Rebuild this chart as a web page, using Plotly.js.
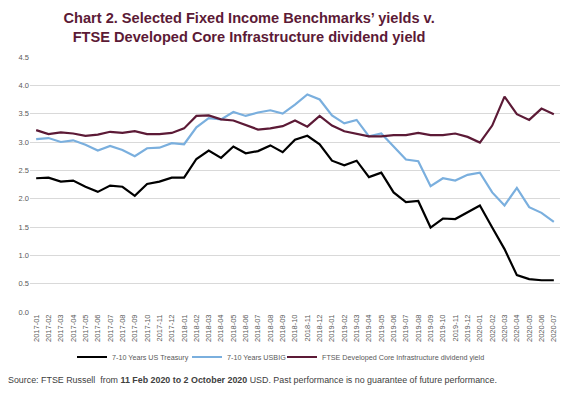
<!DOCTYPE html>
<html>
<head>
<meta charset="utf-8">
<script src="https://cdn.plot.ly/plotly-3.0.1.min.js"></script>
<style>html,body{margin:0;padding:0;background:#fff;}#chart{width:570px;height:398px;}</style>
</head>
<body>
<div id="chart"></div>
<script>
const months = ["2017-01","2017-02","2017-03","2017-04","2017-05","2017-06","2017-07","2017-08","2017-09","2017-10","2017-11","2017-12",
"2018-01","2018-02","2018-03","2018-04","2018-05","2018-06","2018-07","2018-08","2018-09","2018-10","2018-11","2018-12",
"2019-01","2019-02","2019-03","2019-04","2019-05","2019-06","2019-07","2019-08","2019-09","2019-10","2019-11","2019-12",
"2020-01","2020-02","2020-03","2020-04","2020-05","2020-06","2020-07"];

const usTreasury = [2.36,2.37,2.30,2.32,2.21,2.12,2.23,2.21,2.05,2.26,2.30,2.37,
2.37,2.70,2.85,2.72,2.92,2.80,2.84,2.94,2.82,3.04,3.11,2.96,
2.67,2.59,2.67,2.38,2.46,2.11,1.94,1.96,1.49,1.65,1.64,1.76,
1.88,1.49,1.11,0.65,0.58,0.56,0.56];

const usbig = [3.05,3.07,3.00,3.03,2.95,2.85,2.93,2.86,2.75,2.89,2.90,2.98,
2.96,3.26,3.42,3.40,3.53,3.46,3.52,3.56,3.50,3.66,3.84,3.75,
3.47,3.33,3.39,3.10,3.15,2.92,2.69,2.66,2.22,2.36,2.32,2.42,
2.46,2.11,1.88,2.19,1.85,1.75,1.59];

const ftseInfra = [3.21,3.14,3.17,3.15,3.11,3.13,3.18,3.16,3.19,3.14,3.14,3.16,
3.24,3.46,3.47,3.40,3.38,3.30,3.22,3.24,3.28,3.38,3.27,3.46,
3.29,3.19,3.15,3.10,3.10,3.12,3.12,3.16,3.12,3.12,3.15,3.09,
2.99,3.29,3.80,3.49,3.39,3.59,3.49];

const seriesNames = ["7-10 Years US Treasury","7-10 Years USBIG","FTSE Developed Core Infrastructure dividend yield"];
const seriesColors = ["#000000","#7aafde","#5c1a36"];
const legendIds = ["legend","legend2","legend3"];
const yTicks = [0,0.5,1,1.5,2,2.5,3,3.5,4,4.5];

const data = [usTreasury, usbig, ftseInfra].map((v,k)=>({
  type:"scatter", mode:"lines", x:months, y:v, name:seriesNames[k], legend:legendIds[k],
  line:{color:seriesColors[k], width:2.2}
}));

// pixel helpers for legend placement (plot area: x 30..560, y 57..312)
const px = p => (p - 30) / 530;
const py = p => (312 - p) / 255;
const legBase = {orientation:"h", xanchor:"left", yanchor:"middle", y:py(357),
  font:{size:7.2, color:"#595959"}, itemwidth:30, bgcolor:"rgba(0,0,0,0)"};

const layout = {
  width:570, height:398,
  paper_bgcolor:"#fff", plot_bgcolor:"#fff",
  margin:{l:30, r:10, t:57, b:86},
  font:{family:"Liberation Sans, Arial, sans-serif", color:"#595959", size:8},
  title:{text:"Chart 2. Selected Fixed Income Benchmarks’ yields v.<br>FTSE Developed Core Infrastructure dividend yield",
    font:{family:"Liberation Sans, Arial, sans-serif", size:14.6, color:"#5c1a36", weight:"bold"},
    xref:"container", x:0.437, xanchor:"center", y:0.942, yanchor:"top"},
  xaxis:{type:"category", range:[-0.5,42.5], tickangle:-90, showgrid:false, zeroline:false,
    showline:false, ticks:"", tickfont:{size:7.5, color:"#595959"}, automargin:false},
  yaxis:{range:[0,4.5], tickvals:yTicks, tickformat:".1f", showgrid:true, gridcolor:"#d9d9d9", gridwidth:1,
    zeroline:false, showline:false, ticks:"", tickfont:{size:7.5, color:"#595959"}, automargin:false},
  showlegend:true,
  legend:Object.assign({}, legBase, {x:px(112-40)}),
  legend2:Object.assign({}, legBase, {x:px(227-40)}),
  legend3:Object.assign({}, legBase, {x:px(322-40)}),
  annotations:[{
    xref:"paper", yref:"paper", x:-0.045, xanchor:"left", y:-0.24, yanchor:"top",
    showarrow:false, align:"left",
    text:"Source: FTSE Russell  from <b>11 Feb 2020 to 2 October 2020</b> USD. Past performance is no guarantee of future performance.",
    font:{size:8.9, color:"#404040", family:"Liberation Sans, Arial, sans-serif"}
  }]
};

Plotly.newPlot("chart", data, layout, {displayModeBar:false, staticPlot:true});
</script>
</body>
</html>
